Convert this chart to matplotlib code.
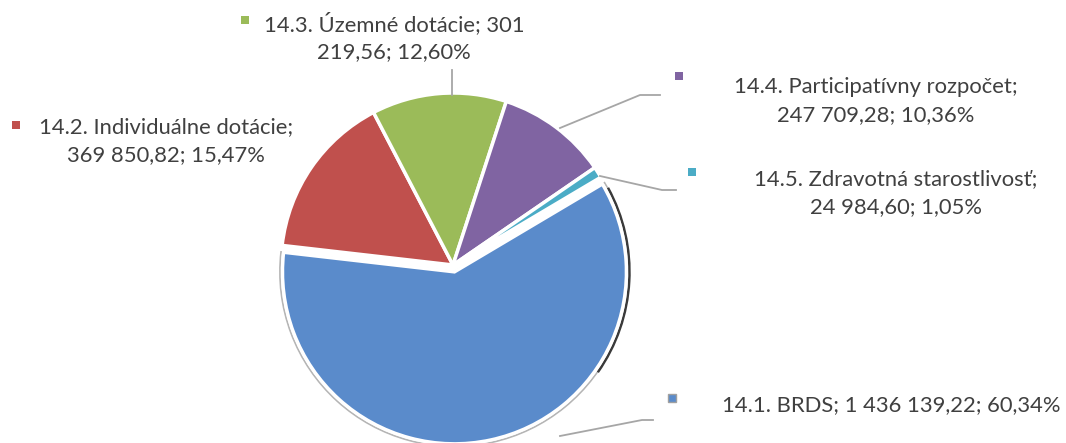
import textwrap
import matplotlib.pyplot as plt
from matplotlib.patches import Wedge, Arc

# data
names = ["14.1. BRDS", "14.2. Individuálne dotácie", "14.3. Územné dotácie",
         "14.4. Participatívny rozpočet", "14.5. Zdravotná starostlivosť"]
values = [1436139.22, 369850.82, 301219.56, 247709.28, 24984.60]
percents = [60.34, 15.47, 12.60, 10.36, 1.05]
colors = ["#5A8BCB", "#C0504D", "#9BBB59", "#8064A2", "#4BACC6"]

W, H = 1066, 443


def fmt(v, dec=2):
    s = f"{v:,.{dec}f}"
    return s.replace(",", " ").replace(".", ",")


fig = plt.figure(figsize=(W / 100, H / 100), dpi=100)
ax = fig.add_axes([0, 0, 1, 1])

cx, cy, r = 453, H - 265, 172
# explode is in data units here (pixels)
wedges, _ = ax.pie(values, startangle=30.7, counterclock=False, colors=colors,
                   center=(cx, cy), radius=r, explode=[7, 0, 0, 0, 0],
                   wedgeprops=dict(edgecolor="white", linewidth=2.5))

# outline + shadow on the exploded slice
w0 = wedges[0]
bc = w0.center
ax.add_patch(Wedge(bc, r + 2.5, w0.theta1, w0.theta2, fill=False,
                   edgecolor="#b5b5b5", linewidth=1.3, zorder=0))
ax.add_patch(Arc(bc, 2 * r + 6, 2 * r + 6, theta1=-35, theta2=w0.theta2 - 2,
                 color="#3a3a3a", linewidth=1.8, zorder=0))

ax.set_xlim(0, W)
ax.set_ylim(0, H)
ax.set_aspect("auto")
ax.axis("off")

# label placement (pixel coords from top-left)
lab_xy = [(891, 405), (166, 141), (394, 37), (876, 101), (896, 193)]
marker_xy = [(672, 398), (16, 125), (245, 20), (679, 76), (692, 172)]
wrap_w = [60, 30, 30, 30, 30]
leaders = [
    [(560, 436), (642, 420), (653, 420)],
    None,
    [(452, 70), (452, 95)],
    [(560, 128), (640, 95), (660, 95)],
    [(600, 176), (662, 190), (676, 190)],
]

for i in range(len(names)):
    txt = f"{names[i]}; {fmt(values[i])}; {fmt(percents[i])}%"
    txt = "\n".join(textwrap.wrap(txt, wrap_w[i]))
    x, y = lab_xy[i]
    ax.text(x, H - y, txt, ha="center", va="center", multialignment="center",
            fontsize=15.8, family="Lato", color="#404040", linespacing=1.46)
    mx, my = marker_xy[i]
    ax.plot(mx, H - my, marker="s", markersize=6.2, color=colors[i],
            markeredgecolor="#a0a0a0" if i == 0 else colors[i],
            markeredgewidth=1.0 if i == 0 else 0)
    if leaders[i]:
        xs = [p[0] for p in leaders[i]]
        ys = [H - p[1] for p in leaders[i]]
        ax.plot(xs, ys, color="#a6a6a6", linewidth=1.3)

fig.savefig("out.png", dpi=100)
